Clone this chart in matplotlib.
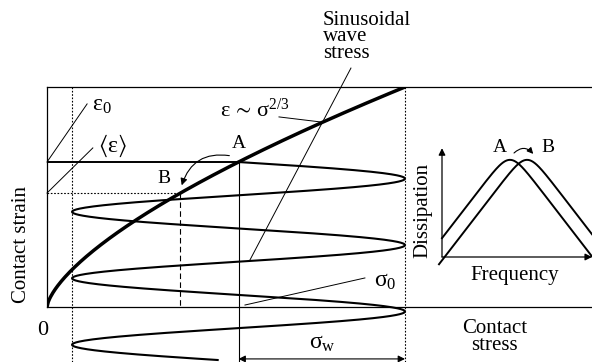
import numpy as np
import matplotlib
matplotlib.use('Agg')
import matplotlib.pyplot as plt
from matplotlib.patches import FancyArrowPatch

plt.rcParams['font.family'] = 'Liberation Serif'
plt.rcParams['mathtext.fontset'] = 'stix'
plt.rcParams['mathtext.default'] = 'regular'
plt.rcParams['font.size'] = 15

# contact law eps ~ sigma^(2/3); stress normalised to the wave peak
strain_exponent = 2 / 3
sigma0 = 0.535          # static contact stress
sigma_w = 0.465         # wave amplitude
strain_avg = 0.518      # mean strain <eps> under the wave
wave_period = 0.302     # period drawn along the downward time axis
wave_cycles = 2.98

# dissipation peaks (log scale) before (A) and after (B)
peak_freq = [0.453, 0.567]
peak_start = [0.0, -0.02]
peak_level = 0.915
flank_width = 0.0733
flank_height = 0.122

fig = plt.figure(figsize=(5.92, 3.62), dpi=100)
ax = fig.add_axes([47 / 592, 55 / 362, 545 / 592, 220 / 362])
ax.set_xlim(0, 545 / 358)
ax.set_ylim(0, 1)
ax.set_xticks([])
ax.set_yticks([])
ax.spines['right'].set_visible(False)
for s in ['left', 'top', 'bottom']:
    ax.spines[s].set_linewidth(0.9)

y_bottom = -0.25
strain0 = sigma0 ** strain_exponent
sigma_b = strain_avg ** (1 / strain_exponent)

# eps ~ sigma^(2/3)
sig = np.linspace(0, 1, 300)
ax.plot(sig, sig ** strain_exponent, color='k', lw=2.5, solid_capstyle='butt')

# stress wave, time running downwards from A
t = np.linspace(0, wave_cycles, 1000)
ax.plot(sigma0 + sigma_w * np.sin(2 * np.pi * t), strain0 - wave_period * t,
        color='k', lw=1.5, clip_on=False)

ax.plot([0, sigma0], [strain0, strain0], color='k', lw=1.4)
ax.plot([sigma0, sigma0], [strain0, y_bottom], color='k', lw=0.8, clip_on=False)
dots = (0, (1.5, 1.5))
ax.plot([sigma0 - sigma_w] * 2, [1, y_bottom], color='k', lw=0.8, ls=dots, clip_on=False)
ax.plot([sigma0 + sigma_w] * 2, [1, y_bottom], color='k', lw=0.8, ls=dots, clip_on=False)
ax.plot([0, sigma_b], [strain_avg, strain_avg], color='k', lw=0.8, ls=dots)
ax.plot([sigma_b, sigma_b], [strain_avg, 0], color='k', lw=0.8, ls=(0, (5, 3)))

# leader lines
thin = dict(color='k', lw=0.7, clip_on=False)
ax.plot([0, 0.112], [strain0, 0.923], **thin)
ax.plot([0, 0.128], [strain_avg, 0.723], **thin)
ax.plot([0.648, 0.77], [0.864, 0.84], **thin)
ax.plot([0.849, 0.567], [1.086, 0.214], **thin)
ax.plot([0.888, 0.553], [0.132, 0.009], **thin)

# amplitude arrow
ax.annotate('', xy=(sigma0 + sigma_w, -0.236), xytext=(sigma0, -0.236),
            arrowprops=dict(arrowstyle='<|-|>', color='k', lw=0.8,
                            mutation_scale=10, shrinkA=0, shrinkB=0),
            annotation_clip=False)

# A -> B jump
ax.add_patch(FancyArrowPatch((0.517, 0.686), (0.374, 0.541),
                             connectionstyle='arc3,rad=0.45', arrowstyle='-|>',
                             mutation_scale=10, lw=0.8, color='k'))

greek = 17
ax.text(0.126, 0.915, r'$\varepsilon_0$', ha='left', va='center', fontsize=greek)
ax.text(0.142, 0.732, r'$\langle\varepsilon\rangle$', ha='left', va='center', fontsize=greek)
ax.text(0.483, 0.864, r'$\varepsilon\,\sim\,\sigma^{2/3}$', ha='left', va='baseline', fontsize=16)
ax.text(0.771, 1.345, 'Sinusoidal\nwave\nstress', ha='left', va='top',
        linespacing=0.8, fontsize=15)
ax.text(0.914, 0.115, r'$\sigma_0$', ha='left', va='center', fontsize=greek)
ax.text(0.768, -0.165, r'$\sigma_w$', ha='center', va='center', fontsize=greek)
ax.text(sigma0, 0.745, 'A', ha='center', va='center', fontsize=14)
ax.text(0.327, 0.586, 'B', ha='center', va='center', fontsize=14)
ax.text(-0.011, -0.109, '0', ha='center', va='center', fontsize=16)
ax.text(-0.07, 0.282, 'Contact strain', rotation=90, ha='center', va='center')
ax.text(1.251, -0.136, 'Contact\nstress', ha='center', va='center', linespacing=0.9)

# inset: dissipation vs frequency
axi = fig.add_axes([442 / 592, 105 / 362, 150 / 592, 117 / 362])
axi.set_xlim(0, 1)
axi.set_ylim(0, 1)
axi.axis('off')
for fc, f0 in zip(peak_freq, peak_start):
    f = np.linspace(f0, 1, 400)
    d = peak_level - flank_height * np.log(2 * np.cosh((f - fc) / flank_width))
    axi.plot(f, d, color='k', lw=1.4, clip_on=False)

arr = dict(arrowstyle='-|>', color='k', lw=0.9, mutation_scale=10, shrinkA=0, shrinkB=0)
axi.annotate('', xy=(0, 0.93), xytext=(0, 0), arrowprops=arr, annotation_clip=False)
axi.annotate('', xy=(1.0, 0), xytext=(0, 0), arrowprops=arr, annotation_clip=False)
axi.add_patch(FancyArrowPatch((0.467, 0.872), (0.62, 0.863),
                              connectionstyle='arc3,rad=-0.6', arrowstyle='-|>',
                              mutation_scale=9, lw=0.8, color='k', clip_on=False))
axi.text(0.387, 0.932, 'A', ha='center', va='center', fontsize=14)
axi.text(0.707, 0.932, 'B', ha='center', va='center', fontsize=14)
axi.text(-0.127, 0.402, 'Dissipation', rotation=90, ha='center', va='center')
axi.text(0.487, -0.154, 'Frequency', ha='center', va='center')

fig.savefig('out.png', dpi=100)
